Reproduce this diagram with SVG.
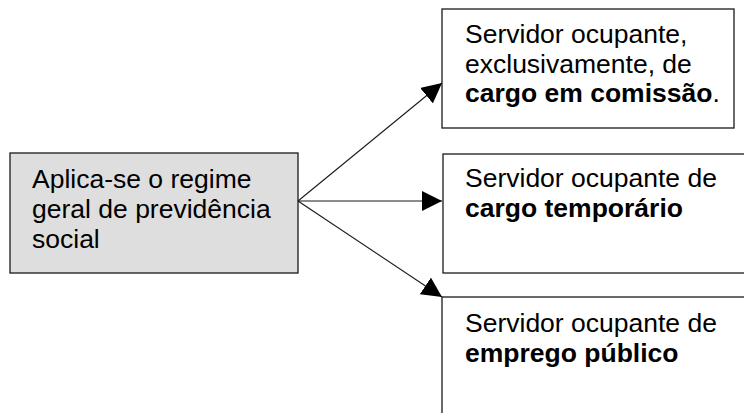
<svg xmlns="http://www.w3.org/2000/svg" width="744" height="413" viewBox="0 0 744 413">
<style>
.box{fill:#ffffff;stroke:#1a1a1a;stroke-width:1.3}
.src{fill:#dedede;stroke:#1a1a1a;stroke-width:1.3}
.t{font-family:"Liberation Sans",Arial,sans-serif;font-size:26.5px;fill:#000}
.b{font-weight:bold}
.conn{stroke:#1a1a1a;stroke-width:1.1;fill:none;marker-end:url(#ah)}
</style>
<defs>
<marker id="ah" markerUnits="userSpaceOnUse" markerWidth="20" markerHeight="20" refX="20" refY="10" orient="auto" viewBox="0 0 20 20">
<path d="M0,0 L20,10 L0,20 Z" fill="#000"/>
</marker>
</defs>
<rect width="744" height="413" fill="#ffffff"/>
<g id="connectors">
<line class="conn" x1="298" y1="201" x2="442" y2="83"/>
<line class="conn" x1="298" y1="201" x2="442" y2="201"/>
<line class="conn" x1="298" y1="201" x2="442" y2="297"/>
</g>
<g id="source">
<rect class="src" x="10" y="153" width="288" height="120"/>
<text class="t" x="32" y="188">Aplica-se o regime</text>
<text class="t" x="32" y="218">geral de previdência</text>
<text class="t" x="32" y="248">social</text>
</g>
<g id="comissao">
<rect class="box" x="442" y="9" width="292" height="119"/>
<text class="t" x="465" y="43">Servidor ocupante,</text>
<text class="t" x="465" y="73">exclusivamente, de</text>
<text class="t" x="465" y="102"><tspan class="b">cargo em comissão</tspan>.</text>
</g>
<g id="temporario">
<rect class="box" x="443" y="154" width="320" height="119"/>
<text class="t" x="465" y="187">Servidor ocupante de</text>
<text class="t b" x="465" y="217">cargo temporário</text>
</g>
<g id="emprego">
<rect class="box" x="442" y="297" width="320" height="140"/>
<text class="t" x="465" y="332">Servidor ocupante de</text>
<text class="t b" x="465" y="362">emprego público</text>
</g>
</svg>
